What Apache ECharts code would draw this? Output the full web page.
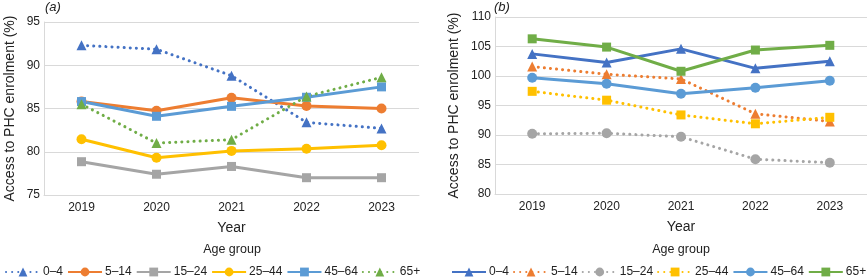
<!DOCTYPE html>
<html>
<head>
<meta charset="utf-8">
<script src="https://cdn.jsdelivr.net/npm/echarts@6/dist/echarts.min.js"></script>
<style>
  html, body { margin: 0; padding: 0; background: #fff; }
  #main { width: 867px; height: 278px; }
</style>
</head>
<body>
<div id="main"></div>
<script>
// data
var years = ['2019', '2020', '2021', '2022', '2023'];
var ageGroups = ['0–4', '5–14', '15–24', '25–44', '45–64', '65+'];

// panel (a)
var a0_4   = [92.3, 91.85, 88.8, 83.4, 82.7];
var a5_14  = [85.8, 84.75, 86.25, 85.3, 85.0];
var a15_24 = [78.85, 77.4, 78.3, 77.0, 77.0];
var a25_44 = [81.45, 79.3, 80.1, 80.35, 80.75];
var a45_64 = [85.8, 84.1, 85.25, 86.3, 87.5];
var a65    = [85.5, 81.0, 81.4, 86.4, 88.6];

// panel (b)
var b0_4   = [103.75, 102.3, 104.6, 101.3, 102.5];
var b5_14  = [101.6, 100.3, 99.5, 93.6, 92.3];
var b15_24 = [90.2, 90.3, 89.7, 85.9, 85.3];
var b25_44 = [97.4, 95.9, 93.4, 91.9, 93.0];
var b45_64 = [99.7, 98.7, 97.0, 98.0, 99.2];
var b65    = [106.3, 104.9, 100.8, 104.4, 105.2];

var colors = ['#4472C4', '#ED7D31', '#A5A5A5', '#FFC000', '#5B9BD5', '#70AD47'];
var FONT = '"Liberation Sans", Arial, sans-serif';
var TXT = '#222';
var GRID_C = '#d9d9d9';

var dataA = [a0_4, a5_14, a15_24, a25_44, a45_64, a65];
var dataB = [b0_4, b5_14, b15_24, b25_44, b45_64, b65];
var symA = ['triangle', 'circle', 'rect', 'circle', 'rect', 'triangle'];
var symB = ['triangle', 'triangle', 'circle', 'rect', 'circle', 'rect'];
var dotA = [true, false, false, false, false, true];
var dotB = [false, true, true, true, false, false];

function mkSeries(data, syms, dots, idx, suffix) {
  return data.map(function (d, i) {
    return {
      name: ageGroups[i] + suffix,
      type: 'line',
      xAxisIndex: idx,
      yAxisIndex: idx,
      data: d,
      symbol: syms[i],
      symbolSize: syms[i] == 'rect' ? 9 : 10,
      showSymbol: true,
      animation: false,
      itemStyle: { color: colors[i] },
      lineStyle: dots[i]
        ? { color: colors[i], width: 3, type: [0.1, 6], cap: 'round' }
        : { color: colors[i], width: 3 }
    };
  });
}

function yAx(idx, min, max) {
  return {
    type: 'value', gridIndex: idx, min: min, max: max, interval: 5,
    name: 'Access to PHC enrolment (%)',
    nameLocation: 'middle',
    nameGap: idx == 0 ? 27 : 34,
    nameTextStyle: { fontFamily: FONT, fontSize: 14, color: TXT },
    axisLine: { show: true, lineStyle: { color: GRID_C } },
    axisTick: { show: false },
    axisLabel: { fontFamily: FONT, fontSize: 12, color: TXT, margin: 4 },
    splitLine: { lineStyle: { color: GRID_C } }
  };
}

function xAx(idx) {
  return {
    type: 'category', gridIndex: idx, data: years, boundaryGap: true,
    name: 'Year', nameLocation: 'middle', nameGap: 26,
    nameTextStyle: { fontFamily: FONT, fontSize: 14, color: TXT },
    axisLine: { lineStyle: { color: GRID_C } },
    axisTick: { show: false },
    axisLabel: { fontFamily: FONT, fontSize: 12, color: TXT, margin: 7 }
  };
}

function legendOf(left, suffix) {
  return {
    left: left, top: 266, width: 440, padding: 0,
    itemWidth: 34, itemHeight: 11, itemGap: 4,
    data: ageGroups.map(function (g) { return g + suffix; }),
    formatter: function (n) { return n.replace('\u200b', ''); },
    textStyle: { fontFamily: FONT, fontSize: 12, color: TXT, padding: [0, 0, 0, -2] }
  };
}

var chart = echarts.init(document.getElementById('main'), null, { renderer: 'canvas' });
chart.setOption({
  animation: false,
  grid: [
    { left: 44, top: 22, width: 375, height: 173 },
    { left: 495, top: 17, width: 372, height: 177 }
  ],
  xAxis: [xAx(0), xAx(1)],
  yAxis: [yAx(0, 75, 95), yAx(1, 80, 110)],
  legend: [legendOf(5, ''), legendOf(451, '\u200b')],
  graphic: [
    { type: 'text', left: 45, top: 1, style: { text: '(a)', font: 'italic 13px ' + FONT, fill: TXT } },
    { type: 'text', left: 494, top: 1, style: { text: '(b)', font: 'italic 13px ' + FONT, fill: TXT } },
    { type: 'text', x: 232, y: 250, style: { text: 'Age group', font: '12.5px ' + FONT, fill: TXT, align: 'center', verticalAlign: 'middle' } },
    { type: 'text', x: 681, y: 250, style: { text: 'Age group', font: '12.5px ' + FONT, fill: TXT, align: 'center', verticalAlign: 'middle' } }
  ],
  series: mkSeries(dataA, symA, dotA, 0, '').concat(mkSeries(dataB, symB, dotB, 1, '\u200b'))
});
</script>
</body>
</html>
